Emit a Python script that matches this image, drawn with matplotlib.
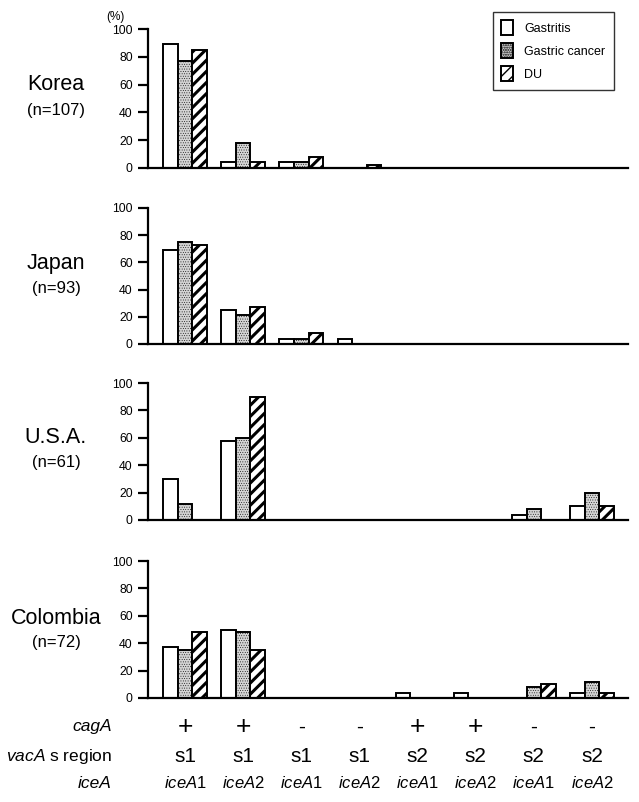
import matplotlib
matplotlib.use('Agg')
import matplotlib.pyplot as plt
from matplotlib.patches import Patch
from matplotlib.transforms import blended_transform_factory

plt.rcParams['font.family'] = ['Liberation Sans', 'DejaVu Sans']
plt.rcParams['mathtext.fontset'] = 'custom'
plt.rcParams['mathtext.rm'] = 'Liberation Sans'
plt.rcParams['mathtext.it'] = 'Liberation Sans:italic'

# data (%)
countries = ['Korea', 'Japan', 'U.S.A.', 'Colombia']
n_labels = ['(n=107)', '(n=93)', '(n=61)', '(n=72)']
series = ['Gastritis', 'Gastric cancer', 'DU']

korea_gastritis = [89, 4, 4, 0, 0, 0, 0, 0]
korea_cancer = [77, 18, 4, 0, 0, 0, 0, 0]
korea_du = [85, 4, 8, 2, 0, 0, 0, 0]

japan_gastritis = [69, 25, 4, 4, 0, 0, 0, 0]
japan_cancer = [75, 21, 4, 0, 0, 0, 0, 0]
japan_du = [73, 27, 8, 0, 0, 0, 0, 0]

usa_gastritis = [30, 58, 0, 0, 0, 0, 4, 10]
usa_cancer = [12, 60, 0, 0, 0, 0, 8, 20]
usa_du = [0, 90, 0, 0, 0, 0, 0, 10]

colombia_gastritis = [37, 50, 0, 0, 4, 4, 0, 4]
colombia_cancer = [35, 48, 0, 0, 0, 0, 8, 12]
colombia_du = [48, 35, 0, 0, 0, 0, 10, 4]

cagA = ['+', '+', '-', '-', '+', '+', '-', '-']
vacA = ['s1', 's1', 's1', 's1', 's2', 's2', 's2', 's2']
iceA = ['1', '2', '1', '2', '1', '2', '1', '2']

data = [
    (korea_gastritis, korea_cancer, korea_du),
    (japan_gastritis, japan_cancer, japan_du),
    (usa_gastritis, usa_cancer, usa_du),
    (colombia_gastritis, colombia_cancer, colombia_du),
]

W, H = 639, 802
fig = plt.figure(figsize=(W / 100, H / 100), dpi=100)

# pixel geometry of panels: (baseline y, top y)
panels = [(168, 29), (344, 208), (520, 383), (698, 561)]
label_y = [(85, 110), (264, 289), (438, 462), (618, 642)]
x0, x1 = 148, 628

styles = [
    dict(facecolor='white', hatch=None, hlw=1.0),
    dict(facecolor='#d4d4d4', hatch='.......', hlw=0.3),
    dict(facecolor='white', hatch='///', hlw=2.2),
]

w = 0.25
groups = list(range(8))
axes = []
for i, (base, top) in enumerate(panels):
    ax = fig.add_axes([x0 / W, 1 - base / H, (x1 - x0) / W, (base - top) / H])
    axes.append(ax)
    for j, vals in enumerate(data[i]):
        st = styles[j]
        with plt.rc_context({'hatch.linewidth': st['hlw']}):
            ax.bar([g + (j - 1) * w for g in groups], vals, w,
                   facecolor=st['facecolor'], hatch=st['hatch'],
                   edgecolor='black', linewidth=1.4, zorder=2)
    ax.set_xlim(-0.637, 7.62)
    ax.set_ylim(0, 100)
    ax.set_yticks(range(0, 101, 20))
    ax.tick_params(axis='y', direction='out', length=7, width=1.6,
                   labelsize=8.8, pad=4)
    ax.tick_params(axis='x', bottom=False, labelbottom=False)
    for s in ['top', 'right']:
        ax.spines[s].set_visible(False)
    for s in ['left', 'bottom']:
        ax.spines[s].set_linewidth(1.6)
    ax.patch.set_alpha(0)

    ly, ny = label_y[i]
    fig.text(56 / W, 1 - ly / H, countries[i], fontsize=15.5,
             ha='center', va='center')
    fig.text(56 / W, 1 - ny / H, n_labels[i], fontsize=12,
             ha='center', va='center')

fig.text(125 / W, 1 - 17 / H, '(%)', fontsize=8.5, ha='right', va='center')

# legend
handles = []
for j, name in enumerate(series):
    st = styles[j]
    with plt.rc_context({'hatch.linewidth': st['hlw']}):
        handles.append(Patch(facecolor=st['facecolor'], hatch=st['hatch'],
                             edgecolor='black', linewidth=1.4, label=name))
leg = axes[0].legend(handles=handles, loc='upper left',
                     bbox_to_anchor=(493 / W, 1 - 12 / H),
                     bbox_transform=fig.transFigure, fontsize=9,
                     frameon=True, fancybox=False, edgecolor='black',
                     handlelength=0.95, handleheight=1.5, labelspacing=0.62,
                     handletextpad=0.9, borderpad=0.65, borderaxespad=0)
leg.get_frame().set_linewidth(1.0)

# bottom genotype rows
tr = blended_transform_factory(axes[-1].transData, fig.transFigure)
rows_y = [727, 756, 783]
fig.text(112 / W, 1 - rows_y[0] / H, 'cagA', fontsize=12.5, style='italic',
         ha='right', va='center')
fig.text(112 / W, 1 - rows_y[1] / H, r'$\mathit{vacA}$ s region', fontsize=12.5,
         ha='right', va='center')
fig.text(112 / W, 1 - rows_y[2] / H, 'iceA', fontsize=12.5, style='italic',
         ha='right', va='center')
for g in groups:
    fig.text(g, 1 - rows_y[0] / H, cagA[g], fontsize=19 if cagA[g] == '+' else 15,
             ha='center', va='center', transform=tr)
    fig.text(g, 1 - rows_y[1] / H, vacA[g], fontsize=15,
             ha='center', va='center', transform=tr)
    fig.text(g, 1 - rows_y[2] / H, r'$\mathit{iceA}$' + iceA[g], fontsize=12,
             ha='center', va='center', transform=tr)

fig.savefig('out.png', dpi=100)
